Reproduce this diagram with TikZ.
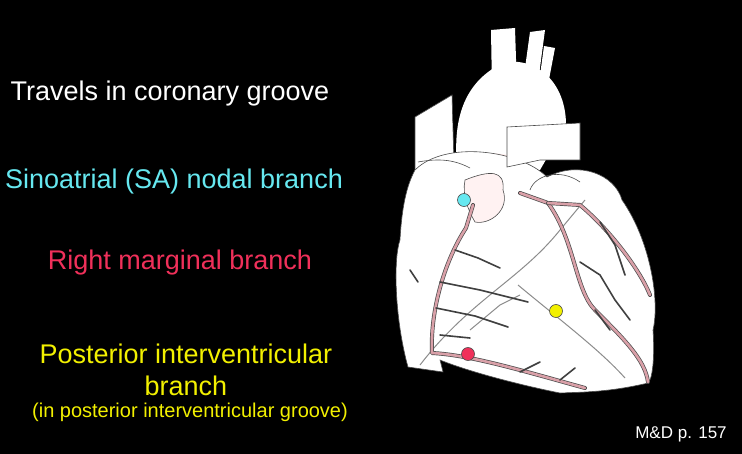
\documentclass[tikz,border=0pt]{standalone}
\usepackage{fontspec}
\setmainfont{Liberation Sans}
\definecolor{saCyan}{HTML}{66E8F0}
\definecolor{rmRed}{HTML}{F0305A}
\definecolor{piYellow}{HTML}{F2F000}
\definecolor{vessel}{HTML}{D9A0A8}
\tikzset{
  label text/.style={font=\fontsize{27}{32}\selectfont, align=center},
  organ/.style={fill=white, draw=black!70, line width=0.6pt},
  artery/.style={draw=black!70, line width=4pt, line cap=round, line join=round},
  artery fill/.style={draw=vessel, line width=2.6pt, line cap=round, line join=round},
  twig/.style={draw=black!75, line width=1.6pt, line cap=round},
  vein/.style={draw=black!45, line width=1pt},
  marker/.style={circle, draw=black!70, line width=0.6pt, minimum size=13pt, inner sep=0pt}
}
\begin{document}
\begin{tikzpicture}[x=1pt, y=-1pt]
  \fill[black] (0,0) rectangle (742,454);
  \useasboundingbox (0,0) rectangle (742,454);

  % Texts
  \node[label text, text=white] (travels) at (170,94) {Travels in coronary groove};
  \node[label text, text=saCyan] (sanodal) at (174,182) {Sinoatrial (SA) nodal branch};
  \node[label text, text=rmRed] (rmarg) at (180,263) {Right marginal branch};
  \node[label text, text=piYellow] (postiv) at (186,370) {Posterior interventricular\\branch};
  \node[text=piYellow, font=\fontsize{20}{24}\selectfont] (groove) at (190,412) {(in posterior interventricular groove)};
  \node[text=white, font=\fontsize{17}{20}\selectfont] (page) at (681,434) {M\&D p. 157};

  % Great vessels
  \path[fill=white] (491,30) -- (515,28) -- (517,90) -- (492,90) -- cycle;
  \path[fill=white] (530,32) -- (545,30) -- (537,90) -- (522,90) -- cycle;
  \path[fill=white] (544,46) -- (555,48) -- (547,90) -- (538,90) -- cycle;
  \path[organ] (415,117) -- (452,95) -- (454,165) -- (415,172) -- cycle;
  \path[fill=white] (457,165) .. controls (452,110) and (470,78) .. (505,62)
     .. controls (540,58) and (566,85) .. (566,125) -- (540,170) -- cycle;
  \path[fill=red!8] (460,160) .. controls (480,150) and (520,150) .. (530,170) -- (460,170) -- cycle;

  % Heart body
  \path[organ] (415,170) .. controls (445,140) and (520,150) .. (547,177)
     .. controls (580,160) and (615,175) .. (622,200)
     .. controls (650,240) and (660,300) .. (653,330)
     .. controls (655,360) and (652,380) .. (648,383)
     .. controls (610,392) and (585,392) .. (560,393)
     .. controls (520,385) and (470,372) .. (440,360)
     -- (443,372) -- (408,367)
     .. controls (395,320) and (393,260) .. (400,240)
     .. controls (402,205) and (407,185) .. (415,170) -- cycle;

  % Pulmonary trunk and atria
  \path[organ] (507,127) -- (580,123) -- (580,160) -- (540,160) -- (507,167) -- cycle;
  \path[organ, fill=red!5] (465,180) .. controls (490,170) and (505,170) .. (503,190)
     .. controls (510,210) and (490,225) .. (475,222)
     .. controls (468,210) and (462,195) .. (465,180) -- cycle;
  \draw[black!70, line width=0.6pt] (530,190) .. controls (535,175) and (560,168) .. (580,182);
  \draw[black!70, line width=0.6pt] (418,162) .. controls (440,158) and (455,160) .. (470,168);

  % Veins and small vessels
  \draw[vein] (420,365) .. controls (470,300) and (520,280) .. (560,230) -- (585,200);
  \draw[vein] (518,285) .. controls (560,320) and (600,350) .. (625,378);
  \draw[vein] (520,295) -- (500,305) -- (470,330);

  % Right coronary artery
  \path[artery] (473,205) -- (466,228) .. controls (445,260) and (430,310) .. (432,353)
     .. controls (470,355) and (520,370) .. (585,388);
  \path[artery fill] (473,205) -- (466,228) .. controls (445,260) and (430,310) .. (432,353)
     .. controls (470,355) and (520,370) .. (585,388);
  % Left coronary artery
  \path[artery] (520,193) -- (548,203) .. controls (575,240) and (575,290) .. (595,310)
     .. controls (625,340) and (645,360) .. (648,382);
  \path[artery fill] (520,193) -- (548,203) .. controls (575,240) and (575,290) .. (595,310)
     .. controls (625,340) and (645,360) .. (648,382);
  \path[artery] (548,203) -- (580,205) .. controls (610,230) and (640,270) .. (650,295);
  \path[artery fill] (548,203) -- (580,205) .. controls (610,230) and (640,270) .. (650,295);

  % Twigs
  \draw[twig] (455,250) -- (478,258) -- (500,268);
  \draw[twig] (440,282) -- (480,290) -- (528,302);
  \draw[twig] (436,308) -- (475,316) -- (508,327);
  \draw[twig] (440,335) -- (470,338);
  \draw[twig] (520,372) -- (540,362);
  \draw[twig] (560,380) -- (575,368);
  \draw[twig] (580,262) -- (600,275) -- (615,300) -- (630,320);
  \draw[twig] (595,310) -- (610,330);
  \draw[twig] (600,222) -- (615,245) -- (625,275);
  \draw[twig] (410,270) -- (418,282);

  % Markers
  \node[marker, fill=saCyan] (sadot) at (464,200) {};
  \node[marker, fill=piYellow] (pidot) at (556,311) {};
  \node[marker, fill=rmRed] (rmdot) at (468,354) {};
\end{tikzpicture}
\end{document}
